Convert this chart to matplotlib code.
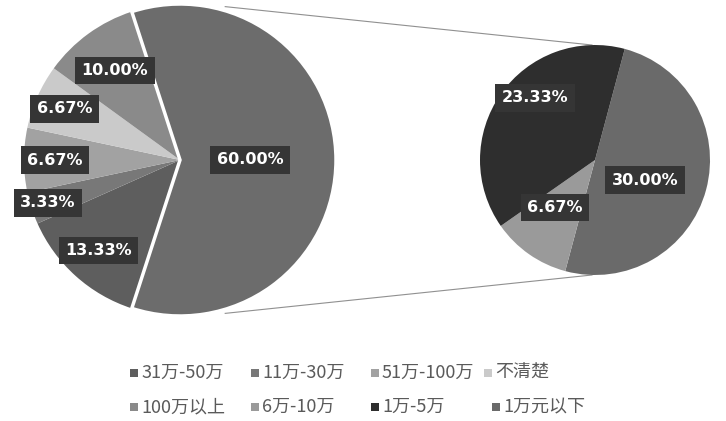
import numpy as np
import matplotlib
matplotlib.use("Agg")
import matplotlib.pyplot as plt
from matplotlib.patches import Rectangle

plt.rcParams['font.family'] = ['Noto Sans CJK SC', 'DejaVu Sans']

# ---- data ----
categories = ["31万-50万", "11万-30万", "51万-100万", "不清楚", "100万以上",
              "6万-10万", "1万-5万", "1万元以下"]
percent = [13.33, 3.33, 6.67, 6.67, 10.00, 6.67, 23.33, 30.00]
colors = ["#5e5e5e", "#787878", "#a2a2a2", "#cacaca", "#8a8a8a",
          "#9a9a9a", "#2e2e2e", "#6a6a6a"]
main_idx = [0, 1, 2, 3, 4]          # categories in primary pie
sec_order = [7, 5, 6]               # secondary pie, clockwise from start
other_color = "#6c6c6c"

W, H = 726, 421
fig = plt.figure(figsize=(W / 100, H / 100), dpi=100)
ax = fig.add_axes([0, 0, 1, 1])

def py(y):  # pixel y (top-down) to axes y
    return H - y

main_c = (180, py(160)); main_r = 156
sec_c = (595, py(160)); sec_r = 115

other_val = sum(percent[i] for i in sec_order)
main_vals = [other_val] + [percent[i] for i in main_idx]
main_cols = [other_color] + [colors[i] for i in main_idx]
start_main = other_val / 100 * 360 / 2
wm, _ = ax.pie(main_vals, colors=main_cols, startangle=start_main, counterclock=False,
               center=main_c, radius=main_r, frame=True,
               wedgeprops=dict(edgecolor="none", linewidth=0))
wm[0].set_edgecolor("white")
wm[0].set_linewidth(2.5)
wm[0].set_zorder(3)

sec_vals = [percent[i] for i in sec_order]
sec_cols = [colors[i] for i in sec_order]
ws, _ = ax.pie(sec_vals, colors=sec_cols, startangle=75, counterclock=False,
               center=sec_c, radius=sec_r, frame=True,
               wedgeprops=dict(edgecolor="none", linewidth=0))

# connector lines
for a_m, a_s in [(72, 90), (-72, -90)]:
    x1 = main_c[0] + main_r * np.cos(np.radians(a_m)) - 3
    y1 = main_c[1] + main_r * np.sin(np.radians(a_m)) + np.sign(a_m) * 5
    x2 = sec_c[0] + sec_r * np.cos(np.radians(a_s)) - 3
    y2 = sec_c[1] + sec_r * np.sin(np.radians(a_s))
    ax.plot([x1, x2], [y1, y2], color="#909090", lw=0.8, zorder=0)

# labels
def label(w, center, r, frac, dang, txt):
    mid = (w.theta1 + w.theta2) / 2 + dang
    x = center[0] + r * frac * np.cos(np.radians(mid))
    y = center[1] + r * frac * np.sin(np.radians(mid))
    ax.text(x, y, txt, ha="center", va="center", color="white",
            fontsize=11.5, fontweight="bold", family="DejaVu Sans",
            bbox=dict(boxstyle="square,pad=0.4", fc="#353535", ec="none"),
            zorder=5)

main_frac = [0.45, 0.78, 0.89, 0.80, 0.81, 0.71]
for w, f, v in zip(wm, main_frac, main_vals):
    label(w, main_c, main_r, f, 0, f"{v:.2f}%")
sec_frac = [0.47, 0.54, 0.75]
sec_dang = [-7, -5, -11]
for w, f, d, v in zip(ws, sec_frac, sec_dang, sec_vals):
    label(w, sec_c, sec_r, f, d, f"{v:.2f}%")

# legend (manual, 4 columns x 2 rows)
col_x = [130, 251, 371, 484]
row_y = [373, 407]
for k, (cat, col) in enumerate(zip(categories, colors)):
    r, c = divmod(k, 4)
    x = col_x[c] + (8 if (r == 1 and c == 3) else 0)
    y = py(row_y[r])
    ax.add_patch(Rectangle((x, y - 4), 8, 8, color=col, lw=0))
    ax.text(x + 11, y, cat, ha="left", va="center", fontsize=13,
            color="#5a5a5a")

ax.set_xlim(0, W)
ax.set_ylim(0, H)
ax.set_aspect("auto")
ax.axis("off")
fig.savefig("out.png", dpi=100, facecolor="white")
